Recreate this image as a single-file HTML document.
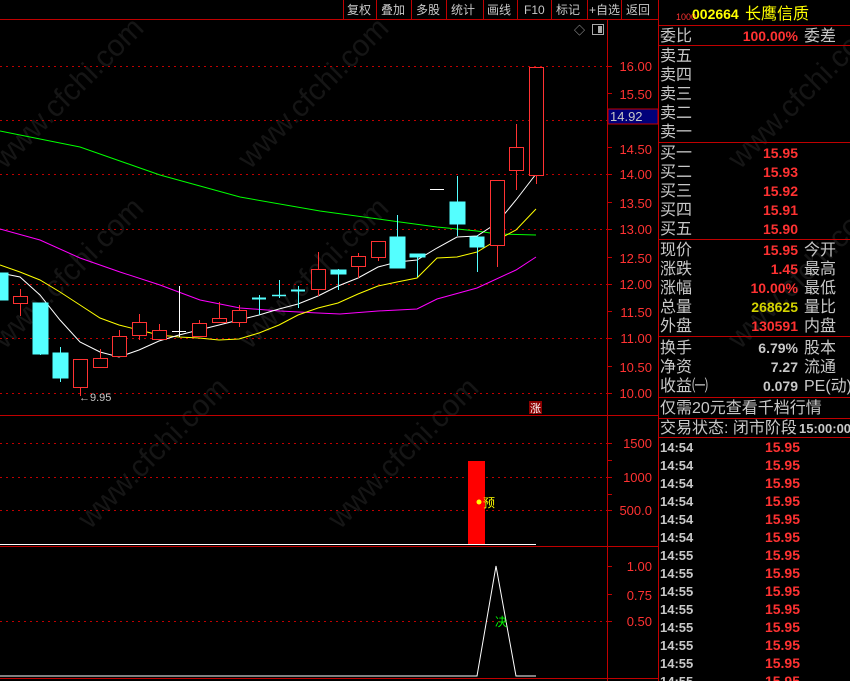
<!DOCTYPE html>
<html><head><meta charset="utf-8"><style>
html,body{margin:0;padding:0;background:#000;width:850px;height:681px;overflow:hidden}
svg{display:block}
text{font-family:"Liberation Sans","Noto Sans CJK SC",sans-serif}
.g{fill:#c8c8c8;font-size:16px}
.r{fill:#ff3232;font-size:14px;font-weight:bold;text-anchor:end}
.ax{fill:#ff3232;font-size:13px}
.tb{fill:#c8c8c8;font-size:12px}
.tm{fill:#c8c8c8;font-size:13px;font-weight:bold}
.rt{fill:#ff3232;font-size:14px;font-weight:bold;text-anchor:end}
</style></head><body>
<svg width="850" height="681" viewBox="0 0 850 681" xmlns="http://www.w3.org/2000/svg">
<rect width="850" height="681" fill="#000"/>
<g fill="#151515" font-size="30" font-family="Liberation Sans,sans-serif">
<text transform="translate(5,170) rotate(-45)">www.cfchi.com</text>
<text transform="translate(250,170) rotate(-45)">www.cfchi.com</text>
<text transform="translate(5,350) rotate(-45)">www.cfchi.com</text>
<text transform="translate(250,350) rotate(-45)">www.cfchi.com</text>
<text transform="translate(90,530) rotate(-45)">www.cfchi.com</text>
<text transform="translate(340,530) rotate(-45)">www.cfchi.com</text>
<text transform="translate(740,170) rotate(-45)">www.cfchi.com</text>
<text transform="translate(740,350) rotate(-45)">www.cfchi.com</text>
</g>
<g stroke="#c00000" stroke-width="1">
<line x1="0" y1="19.5" x2="658" y2="19.5"/>
<line x1="343.5" y1="0" x2="343.5" y2="19"/><line x1="376.5" y1="0" x2="376.5" y2="19"/><line x1="411.5" y1="0" x2="411.5" y2="19"/><line x1="446.5" y1="0" x2="446.5" y2="19"/><line x1="483.5" y1="0" x2="483.5" y2="19"/><line x1="517.5" y1="0" x2="517.5" y2="19"/><line x1="551.5" y1="0" x2="551.5" y2="19"/><line x1="587.5" y1="0" x2="587.5" y2="19"/><line x1="621.5" y1="0" x2="621.5" y2="19"/>
<line x1="607.5" y1="19" x2="607.5" y2="681"/>
<line x1="658.5" y1="0" x2="658.5" y2="681"/>
<line x1="0" y1="415.5" x2="658" y2="415.5"/>
<line x1="0" y1="546.5" x2="658" y2="546.5"/>
<line x1="0" y1="678.5" x2="658" y2="678.5"/>
</g>
<g class="tb">
<text x="347" y="14">复权</text><text x="381" y="14">叠加</text><text x="416" y="14">多股</text><text x="451" y="14">统计</text><text x="487" y="14">画线</text><text x="524" y="14">F10</text><text x="556" y="14">标记</text><text x="589" y="14">+自选</text><text x="626" y="14">返回</text>
</g>
<text x="574" y="34" fill="#aaa" font-size="11">◇</text>
<rect x="592.5" y="24.5" width="11" height="10" fill="none" stroke="#aaa"/><rect x="598" y="26" width="4" height="7" fill="#aaa"/>
<g stroke="#c00000" stroke-dasharray="2,4" stroke-width="1">
<line x1="0" y1="66.5" x2="607" y2="66.5"/><line x1="0" y1="120.5" x2="607" y2="120.5"/><line x1="0" y1="174.5" x2="607" y2="174.5"/><line x1="0" y1="229.5" x2="607" y2="229.5"/><line x1="0" y1="284.5" x2="607" y2="284.5"/><line x1="0" y1="338.5" x2="607" y2="338.5"/><line x1="0" y1="393.5" x2="607" y2="393.5"/>
<line x1="0" y1="443.5" x2="607" y2="443.5"/><line x1="0" y1="477.5" x2="607" y2="477.5"/><line x1="0" y1="510.5" x2="607" y2="510.5"/>
<line x1="0" y1="621.5" x2="607" y2="621.5"/>
</g>
<g stroke="#c00000"><line x1="607" y1="66.5" x2="612" y2="66.5"/><line x1="607" y1="93.5" x2="612" y2="93.5"/><line x1="607" y1="147.5" x2="612" y2="147.5"/><line x1="607" y1="174.5" x2="612" y2="174.5"/><line x1="607" y1="202.5" x2="612" y2="202.5"/><line x1="607" y1="229.5" x2="612" y2="229.5"/><line x1="607" y1="257.5" x2="612" y2="257.5"/><line x1="607" y1="284.5" x2="612" y2="284.5"/><line x1="607" y1="311.5" x2="612" y2="311.5"/><line x1="607" y1="338.5" x2="612" y2="338.5"/><line x1="607" y1="366.5" x2="612" y2="366.5"/><line x1="607" y1="393.5" x2="612" y2="393.5"/><line x1="607" y1="443.5" x2="612" y2="443.5"/><line x1="607" y1="460.5" x2="612" y2="460.5"/><line x1="607" y1="477.5" x2="612" y2="477.5"/><line x1="607" y1="494.5" x2="612" y2="494.5"/><line x1="607" y1="510.5" x2="612" y2="510.5"/><line x1="607" y1="566.5" x2="612" y2="566.5"/><line x1="607" y1="594.5" x2="612" y2="594.5"/><line x1="607" y1="621.5" x2="612" y2="621.5"/></g>
<g class="ax" text-anchor="end">
<text x="652" y="71">16.00</text><text x="652" y="99">15.50</text><text x="652" y="154">14.50</text><text x="652" y="179">14.00</text><text x="652" y="208">13.50</text><text x="652" y="234">13.00</text><text x="652" y="263">12.50</text><text x="652" y="289">12.00</text><text x="652" y="317">11.50</text><text x="652" y="343">11.00</text><text x="652" y="372">10.50</text><text x="652" y="398">10.00</text>
<text x="652" y="448">1500</text><text x="652" y="482">1000</text><text x="652" y="515">500.0</text>
<text x="652" y="571">1.00</text><text x="652" y="600">0.75</text><text x="652" y="626">0.50</text>
</g>
<rect x="608" y="109" width="50" height="15" fill="#00007a" stroke="#c00000"/>
<text x="610" y="121" fill="#c8c8c8" font-size="13">14.92</text>
<g fill="none" stroke-width="1">
<polyline stroke="#00ff00" points="0,131 80,147 160,175 240,197 320,211 400,222 437,227 477,231 497,234 536,235"/>
<polyline stroke="#ff00ff" points="0,229 40,240 80,258 120,272 160,285 200,300 240,308 280,311 318,313 340,314 378,311 417,309 437,299 477,288 516,270 536,257"/>
<polyline stroke="#ffff00" points="0,265 20,272 40,280 60,292 80,305 100,318 119,325 139,330 159,335 179,337 199,338 219,340 239,339 259,333 279,325 298,315 318,308 338,303 358,294 378,286 397,282 417,278 437,258 457,257 477,252 497,240 516,230 536,209"/>
<polyline stroke="#ffffff" points="0,273 20,277 40,295 60,320 80,342 100,352 119,357 139,350 159,341 179,335 199,330 219,325 239,320 259,315 279,309 298,304 318,296 338,286 358,278 378,267 397,262 417,260 437,248 457,237 477,236 497,223 516,200 536,174"/>
</g>
<g stroke="#ff3232" fill="#000">
<line x1="20.5" y1="289" x2="20.5" y2="316"/><rect x="13.5" y="296.5" width="14" height="7"/>
<line x1="80.5" y1="387" x2="80.5" y2="396"/><rect x="73.5" y="359.5" width="14" height="28"/>
<line x1="100.5" y1="349" x2="100.5" y2="358"/><rect x="93.5" y="358.5" width="14" height="9"/>
<line x1="119.5" y1="330" x2="119.5" y2="336"/><rect x="112.5" y="336.5" width="14" height="20"/>
<line x1="139.5" y1="314" x2="139.5" y2="340"/><rect x="132.5" y="322.5" width="14" height="13"/>
<line x1="159.5" y1="324" x2="159.5" y2="339"/><rect x="152.5" y="330.5" width="14" height="9"/>
<line x1="199.5" y1="320" x2="199.5" y2="336"/><rect x="192.5" y="323.5" width="14" height="13"/>
<line x1="219.5" y1="302" x2="219.5" y2="322"/><rect x="212.5" y="318.5" width="14" height="4"/>
<line x1="239.5" y1="305" x2="239.5" y2="327"/><rect x="232.5" y="310.5" width="14" height="12"/>
<line x1="318.5" y1="252" x2="318.5" y2="296"/><rect x="311.5" y="269.5" width="14" height="20"/>
<line x1="358.5" y1="253" x2="358.5" y2="278"/><rect x="351.5" y="256.5" width="14" height="10"/>
<line x1="378.5" y1="241" x2="378.5" y2="261"/><rect x="371.5" y="241.5" width="14" height="16"/>
<line x1="497.5" y1="245" x2="497.5" y2="267"/><rect x="490.5" y="180.5" width="14" height="65"/>
<line x1="516.5" y1="124" x2="516.5" y2="190"/><rect x="509.5" y="147.5" width="14" height="23"/>
<line x1="536.5" y1="175" x2="536.5" y2="184"/><rect x="529.5" y="67.5" width="14" height="108"/>
</g>
<g stroke="#54ffff" fill="#54ffff">
<rect x="0" y="273" width="8" height="27"/>
<line x1="40.5" y1="303" x2="40.5" y2="355"/><rect x="33" y="303" width="15" height="51"/>
<line x1="60.5" y1="347" x2="60.5" y2="382"/><rect x="53" y="353" width="15" height="25"/>
<line x1="259.5" y1="295" x2="259.5" y2="315"/><line x1="252" y1="298.5" x2="266" y2="298.5" stroke-width="2"/>
<line x1="279.5" y1="280" x2="279.5" y2="298"/><line x1="272" y1="295.5" x2="286" y2="295.5" stroke-width="1.5"/>
<line x1="298.5" y1="286" x2="298.5" y2="308"/><line x1="291" y1="290.5" x2="305" y2="290.5" stroke-width="2"/>
<line x1="338.5" y1="269" x2="338.5" y2="290"/><rect x="331" y="270" width="15" height="4"/>
<line x1="397.5" y1="215" x2="397.5" y2="268"/><rect x="390" y="237" width="15" height="31"/>
<line x1="417.5" y1="254" x2="417.5" y2="277"/><rect x="410" y="254" width="15" height="3"/>
<line x1="457.5" y1="176" x2="457.5" y2="236"/><rect x="450" y="202" width="15" height="22"/>
<line x1="477.5" y1="235" x2="477.5" y2="272"/><rect x="470" y="237" width="14" height="10"/>
</g>
<g stroke="#fff">
<line x1="179.5" y1="286" x2="179.5" y2="337"/><line x1="172" y1="331.5" x2="186" y2="331.5"/>
<line x1="430" y1="189.5" x2="444" y2="189.5"/>
</g>
<text x="79" y="401" fill="#c8c8c8" font-size="11">←9.95</text>
<rect x="529" y="401" width="13" height="13" fill="#8b0000"/><text x="530" y="412" fill="#fff" font-size="11">涨</text>
<rect x="468" y="461" width="17" height="84" fill="#ff0000"/>
<line x1="0" y1="544.5" x2="536" y2="544.5" stroke="#fff"/>
<circle cx="479" cy="502" r="2.5" fill="#ffff00"/><text x="483" y="507" fill="#ffff00" font-size="12">预</text>
<polyline fill="none" stroke="#fff" points="0,676 477,676 496,566 516,676 536,676"/>
<text x="495" y="626" fill="#00ff00" font-size="12">决</text>
<g stroke="#c00000">
<line x1="658" y1="25.5" x2="850" y2="25.5"/><line x1="658" y1="45.5" x2="850" y2="45.5"/><line x1="658" y1="142.5" x2="850" y2="142.5"/><line x1="658" y1="239.5" x2="850" y2="239.5"/><line x1="658" y1="336.5" x2="850" y2="336.5"/><line x1="658" y1="397.5" x2="850" y2="397.5"/><line x1="658" y1="418.5" x2="850" y2="418.5"/><line x1="658" y1="437.5" x2="850" y2="437.5"/>
</g>
<text x="676" y="20" fill="#ff3232" font-size="9">1000</text>
<text x="692" y="19" fill="#ffff00" font-size="14" font-weight="bold">002664</text>
<text x="745" y="19" fill="#ffff00" font-size="16">长鹰信质</text>
<g class="g">
<text x="660" y="41">委比</text><text x="804" y="41">委差</text>
<text x="660" y="61">卖五</text><text x="660" y="80">卖四</text><text x="660" y="99">卖三</text><text x="660" y="118">卖二</text><text x="660" y="137">卖一</text>
<text x="660" y="158">买一</text><text x="660" y="177">买二</text><text x="660" y="196">买三</text><text x="660" y="215">买四</text><text x="660" y="234">买五</text>
<text x="660" y="255">现价</text><text x="804" y="255">今开</text>
<text x="660" y="274">涨跌</text><text x="804" y="274">最高</text>
<text x="660" y="293">涨幅</text><text x="804" y="293">最低</text>
<text x="660" y="312">总量</text><text x="804" y="312">量比</text>
<text x="660" y="331">外盘</text><text x="804" y="331">内盘</text>
<text x="660" y="353">换手</text><text x="804" y="353">股本</text>
<text x="660" y="372">净资</text><text x="804" y="372">流通</text>
<text x="660" y="391">收益㈠</text><text x="804" y="391">PE(动)</text>
<text x="660" y="413">仅需20元查看千档行情</text>
<text x="660" y="433">交易状态: 闭市阶段</text>
</g>
<text x="799" y="433" fill="#c8c8c8" font-size="13" font-weight="bold">15:00:00</text>
<g class="r">
<text x="798" y="41">100.00%</text>
<text x="798" y="158">15.95</text><text x="798" y="177">15.93</text><text x="798" y="196">15.92</text><text x="798" y="215">15.91</text><text x="798" y="234">15.90</text>
<text x="798" y="255">15.95</text><text x="798" y="274">1.45</text><text x="798" y="293">10.00%</text>
<text x="798" y="312" style="fill:#d4d400">268625</text><text x="798" y="331">130591</text>
<text x="798" y="353" style="fill:#c8c8c8">6.79%</text><text x="798" y="372" style="fill:#c8c8c8">7.27</text><text x="798" y="391" style="fill:#c8c8c8">0.079</text>
</g>
<g class="tm">
<text x="660" y="452">14:54</text><text x="660" y="470">14:54</text><text x="660" y="488">14:54</text><text x="660" y="506">14:54</text><text x="660" y="524">14:54</text><text x="660" y="542">14:54</text>
<text x="660" y="560">14:55</text><text x="660" y="578">14:55</text><text x="660" y="596">14:55</text><text x="660" y="614">14:55</text><text x="660" y="632">14:55</text><text x="660" y="650">14:55</text><text x="660" y="668">14:55</text><text x="660" y="686">14:55</text>
</g>
<g class="rt">
<text x="800" y="452">15.95</text><text x="800" y="470">15.95</text><text x="800" y="488">15.95</text><text x="800" y="506">15.95</text><text x="800" y="524">15.95</text><text x="800" y="542">15.95</text>
<text x="800" y="560">15.95</text><text x="800" y="578">15.95</text><text x="800" y="596">15.95</text><text x="800" y="614">15.95</text><text x="800" y="632">15.95</text><text x="800" y="650">15.95</text><text x="800" y="668">15.95</text><text x="800" y="686">15.95</text>
</g>
</svg>
</body></html>
